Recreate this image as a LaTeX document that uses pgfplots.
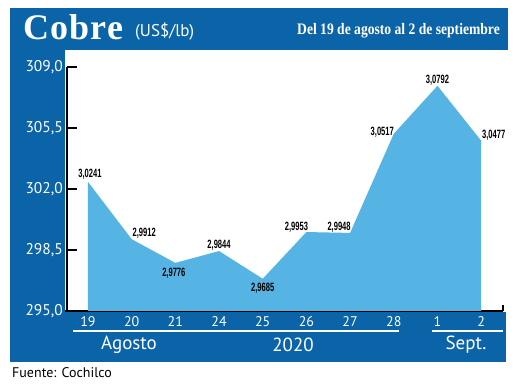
\documentclass[border=0pt]{standalone}
\usepackage{fontspec}
\setmainfont{PT Sans}
\newfontfamily\cobrefont{Liberation Serif}
\newfontfamily\labfont{Liberation Sans}
\usepackage{pgfplots}
\pgfplotsset{compat=1.18}
\definecolor{bgblue}{RGB}{12,100,168}
\definecolor{areablue}{RGB}{86,180,228}
\begin{document}
\begin{tikzpicture}[x=1pt,y=1pt]
\path[use as bounding box] (0,0) rectangle (520,386);
\fill[bgblue] (10,24) rectangle (508,378);
\fill[white] (65,74) rectangle (508,336);
\fill[white] (506,24) rectangle (508,74);
% header
\node[anchor=base west, inner sep=0pt, text=white] at (23,346) {\cobrefont\fontsize{36}{40}\selectfont\bfseries C\kern1pt o\kern1pt b\kern1pt r\kern1pt e};
\node[anchor=base west, inner sep=0pt, text=white] at (135,349) {\fontsize{17}{20}\selectfont (US\$/lb)};
\node[anchor=base east, inner sep=0pt, text=white] at (500,351) {\scalebox{0.85}[1]{\cobrefont\fontsize{16}{19}\selectfont\bfseries Del 19 de agosto al 2 de septiembre}};
% bottom decorations
\draw[white, line width=1.4pt] (73,55) -- (399,55);
\draw[white, line width=1.4pt] (432,55) -- (503,55);
\node[text=white, inner sep=0pt] at (129,41) {\fontsize{19}{22}\selectfont Agosto};
\node[text=white, inner sep=0pt] at (293,41) {\fontsize{19}{22}\selectfont 2020};
\node[text=white, inner sep=0pt] at (466,41) {\fontsize{19}{22}\selectfont Sept.};
\node[anchor=base west, inner sep=0pt, text=black] at (12,9) {\fontsize{14}{16}\selectfont Fuente: Cochilco};
\begin{axis}[
  at={(67pt,75pt)}, anchor=south west,
  scale only axis, width=436pt, height=244pt,
  xmin=-0.48, xmax=9.5, ymin=295, ymax=309,
  axis lines*=left,
  axis line style={black, line width=1.6pt, -},
  ytick={295,298.5,302,305.5,309},
  yticklabel style={/pgf/number format/.cd, fixed, fixed zerofill, precision=1, use comma, /tikz/.cd, text=white, font=\fontsize{15.5}{18}\selectfont, inner sep=0pt, xshift=-4pt},
  /pgf/number format/assume math mode=true,
  tick align=inside,
  major tick length=10pt,
  tick style={black, line width=1.6pt},
  xtick=data,
  xticklabels={19,20,21,24,25,26,27,28,1,2},
  x tick style={draw=none},
  xticklabel style={text=white, font=\fontsize{14}{16}\selectfont, inner sep=0pt, yshift=-5pt},
  clip=false,
]
\addplot[fill=areablue, draw=none] coordinates {
(0,302.41) (1,299.12) (2,297.76) (3,298.44) (4,296.85)
(5,299.53) (6,299.48) (7,305.17) (8,307.92) (9,304.77)
} \closedcycle;
\tikzset{lab/.style={inner sep=0pt, text=black, font=\labfont\fontsize{12}{13}\selectfont\bfseries}}
\node[lab, xshift=2pt, yshift=7.5pt] at (axis cs:0,302.41) {\scalebox{0.63}[1]{3,0241}};
\node[lab, xshift=12.5pt, yshift=5.5pt] at (axis cs:1,299.12) {\scalebox{0.63}[1]{2,9912}};
\node[lab, xshift=-1.5pt, yshift=-10pt] at (axis cs:2,297.76) {\scalebox{0.63}[1]{2,9776}};
\node[lab, xshift=0pt, yshift=6pt] at (axis cs:3,298.44) {\scalebox{0.63}[1]{2,9844}};
\node[lab, xshift=0pt, yshift=-9pt] at (axis cs:4,296.85) {\scalebox{0.63}[1]{2,9685}};
\node[lab, xshift=-10pt, yshift=5pt] at (axis cs:5,299.53) {\scalebox{0.63}[1]{2,9953}};
\node[lab, xshift=-11pt, yshift=6pt] at (axis cs:6,299.48) {\scalebox{0.63}[1]{2,9948}};
\node[lab, xshift=-11.5pt, yshift=2pt] at (axis cs:7,305.17) {\scalebox{0.63}[1]{3,0517}};
\node[lab, xshift=0pt, yshift=6pt] at (axis cs:8,307.92) {\scalebox{0.63}[1]{3,0792}};
\node[lab, xshift=12.5pt, yshift=5.5pt] at (axis cs:9,304.77) {\scalebox{0.63}[1]{3,0477}};
\draw[black, line width=1.6pt] (rel axis cs:1,0) -- ++(0pt,6pt);
\draw[black, line width=1.6pt] (rel axis cs:0,0) -- ++(-2pt,0pt);
\end{axis}
\end{tikzpicture}
\end{document}
